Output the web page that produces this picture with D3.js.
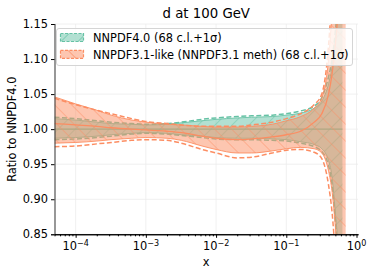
<!DOCTYPE html>
<html>
<head>
<meta charset="utf-8">
<script src="https://cdn.jsdelivr.net/npm/d3@7"></script>
<style>
  body { margin: 0; background: #fff; }
  svg { font-family: "DejaVu Sans", sans-serif; }
</style>
</head>
<body>
<div id="chart"></div>
<script>
// Set dimensions and margins
const width = 374;
const height = 275;
const margin = {left: 54.5, right: 16, top: 24, bottom: 40.7};

// x grid shared by all curves
const xs = [5e-5, 1e-4, 2e-4, 3.2e-4, 6.3e-4, 1e-3, 2e-3, 3.2e-3, 6.3e-3, 1e-2, 2e-2, 3.2e-2,
            6.3e-2, 0.1, 0.16, 0.25, 0.32, 0.4, 0.45, 0.5, 0.56, 0.63, 0.7];

// NNPDF4.0 (ratio to itself)
const n40Central = xs.map(() => 1.0);
const n40Up68 = [1.015, 1.013, 1.010, 1.008, 1.007, 1.006, 1.007, 1.009, 1.012, 1.014, 1.016, 1.017,
                 1.018, 1.020, 1.023, 1.030, 1.040, 1.065, 1.09, 1.13, 1.19, 1.28, null];
const n40Lo68 = [0.987, 0.988, 0.990, 0.992, 0.994, 0.995, 0.994, 0.992, 0.990, 0.988, 0.987, 0.987,
                 0.986, 0.985, 0.982, 0.978, 0.972, 0.955, 0.93, 0.88, 0.82, 0.72, null];
const n40UpSig = [1.017, 1.015, 1.012, 1.010, 1.008, 1.007, 1.008, 1.010, 1.014, 1.016, 1.018, 1.019,
                  1.020, 1.022, 1.026, 1.033, 1.045, 1.075, 1.10, 1.14, 1.20, 1.30, null];
const n40LoSig = [0.985, 0.986, 0.988, 0.990, 0.993, 0.994, 0.993, 0.991, 0.988, 0.986, 0.985, 0.985,
                  0.984, 0.983, 0.980, 0.975, 0.968, 0.948, 0.92, 0.87, 0.80, 0.70, null];

// NNPDF3.1-like
const n31Central = [1.008, 1.006, 1.004, 1.002, 1.000, 0.999, 0.997, 0.995, 0.990, 0.987, 0.985, 0.986,
                    0.989, 0.992, 0.997, 1.010, 1.022, 1.050, 1.08, 1.12, 1.18, 1.25, 1.30];
const n31Up68 = [1.046, 1.036, 1.027, 1.020, 1.013, 1.010, 1.007, 1.006, 1.004, 1.003, 1.003, 1.004,
                 1.007, 1.012, 1.018, 1.030, 1.045, 1.10, 1.17, 1.25, 1.30, 1.35, 1.40];
const n31Lo68 = [0.980, 0.981, 0.983, 0.985, 0.987, 0.988, 0.987, 0.984, 0.976, 0.971, 0.966, 0.966,
                 0.969, 0.972, 0.974, 0.972, 0.966, 0.940, 0.91, 0.86, 0.79, 0.70, 0.60];
const n31UpSig = [1.044, 1.035, 1.027, 1.022, 1.015, 1.011, 1.008, 1.006, 1.004, 1.004, 1.004, 1.006,
                  1.010, 1.015, 1.022, 1.035, 1.050, 1.12, 1.20, 1.30, 1.35, 1.40, 1.45];
const n31LoSig = [0.975, 0.976, 0.979, 0.981, 0.984, 0.985, 0.984, 0.980, 0.971, 0.966, 0.959, 0.960,
                  0.966, 0.970, 0.971, 0.967, 0.958, 0.920, 0.88, 0.82, 0.75, 0.65, 0.55];

const yTicks = [0.85, 0.90, 0.95, 1.00, 1.05, 1.10, 1.15];
const xTicks = [1e-4, 1e-3, 1e-2, 1e-1, 1];
const xTickExp = ["\u22124", "\u22123", "\u22122", "\u22121", "0"];
const legendLabels = ["NNPDF4.0 (68 c.l.+1\u03c3)", "NNPDF3.1-like (NNPDF3.1 meth) (68 c.l.+1\u03c3)"];
const title = "d at 100 GeV";

const green = "#66c2a5";
const orange = "#fc8d62";

const svg = d3.select("#chart")
  .append("svg")
  .attr("width", width)
  .attr("height", height);

const xScale = d3.scaleLog()
  .domain([5e-5, 1.05])
  .range([margin.left, width - margin.right]);

const yScale = d3.scaleLinear()
  .domain([0.85, 1.15])
  .range([height - margin.bottom, margin.top]);

// hatch patterns
const defs = svg.append("defs");
function hatch(id, color, angle) {
  const p = defs.append("pattern")
    .attr("id", id)
    .attr("patternUnits", "userSpaceOnUse")
    .attr("width", 12).attr("height", 12)
    .attr("patternTransform", `rotate(${angle})`);
  p.append("line")
    .attr("x1", 0).attr("y1", 0).attr("x2", 0).attr("y2", 12)
    .attr("stroke", color).attr("stroke-width", 1.3);
}
hatch("hatchG", green, 45);
hatch("hatchO", orange, -45);

defs.append("clipPath").attr("id", "plotclip")
  .append("rect")
  .attr("x", margin.left).attr("y", margin.top)
  .attr("width", width - margin.left - margin.right)
  .attr("height", height - margin.top - margin.bottom);

// grid
svg.append("g").selectAll("line")
  .data(xTicks)
  .enter().append("line")
  .attr("x1", d => xScale(d)).attr("x2", d => xScale(d))
  .attr("y1", margin.top).attr("y2", height - margin.bottom)
  .attr("stroke", "#ececec").attr("stroke-width", 0.8);
svg.append("g").selectAll("line")
  .data(yTicks)
  .enter().append("line")
  .attr("x1", margin.left).attr("x2", width - margin.right)
  .attr("y1", d => yScale(d)).attr("y2", d => yScale(d))
  .attr("stroke", "#ececec").attr("stroke-width", 0.8);

const plot = svg.append("g").attr("clip-path", "url(#plotclip)");

function drawSet(up68, lo68, upSig, loSig, central, color, hatchId) {
  const rows = xs.map((x, i) => ({x: x, up: up68[i], lo: lo68[i], su: upSig[i], sl: loSig[i], c: central[i]}));
  const ok = d => d.up != null;
  const area = d3.area().defined(ok)
    .x(d => xScale(d.x)).y0(d => yScale(d.lo)).y1(d => yScale(d.up))
    .curve(d3.curveMonotoneX);
  plot.append("path").datum(rows).attr("d", area)
    .attr("fill", color).attr("fill-opacity", 0.5);
  plot.append("path").datum(rows).attr("d", area)
    .attr("fill", `url(#${hatchId})`).attr("opacity", 0.7);
  const edge = key => d3.line().defined(ok)
    .x(d => xScale(d.x)).y(d => yScale(d[key])).curve(d3.curveMonotoneX);
  ["up", "lo"].forEach(k => {
    plot.append("path").datum(rows).attr("d", edge(k))
      .attr("fill", "none").attr("stroke", color).attr("stroke-width", 0.9);
  });
  ["su", "sl"].forEach(k => {
    plot.append("path").datum(rows).attr("d", edge(k))
      .attr("fill", "none").attr("stroke", color).attr("stroke-width", 1.5)
      .attr("stroke-dasharray", "5,2.5");
  });
  plot.append("path").datum(rows).attr("d", edge("c"))
    .attr("fill", "none").attr("stroke", color).attr("stroke-width", 1.3);
}

drawSet(n40Up68, n40Lo68, n40UpSig, n40LoSig, n40Central, green, "hatchG");
drawSet(n31Up68, n31Lo68, n31UpSig, n31LoSig, n31Central, orange, "hatchO");

// y axis
const yAxis = svg.append("g")
  .attr("transform", `translate(${margin.left},0)`)
  .call(d3.axisLeft(yScale).tickValues(yTicks).tickFormat(d3.format(".2f")).tickSizeOuter(0).tickSize(3.5).tickPadding(3));
yAxis.attr("font-size", "11.4px").attr("font-family", "DejaVu Sans");
yAxis.selectAll("text").attr("fill", "#000");
yAxis.select(".domain").attr("stroke", "#444").attr("stroke-width", 1.1);

// x axis with log minor ticks
const minor = [];
for (let e = -5; e < 1; e++) {
  for (let m = 2; m < 10; m++) {
    const v = m * Math.pow(10, e);
    if (v >= 5e-5 && v <= 1.05) minor.push(v);
  }
}
const xAxisG = svg.append("g")
  .attr("transform", `translate(0,${height - margin.bottom})`);
xAxisG.call(d3.axisBottom(xScale).tickValues(minor).tickFormat("").tickSize(2).tickSizeOuter(0));
xAxisG.append("g").call(d3.axisBottom(xScale).tickValues(xTicks).tickFormat("").tickSize(3.5).tickSizeOuter(0));
xAxisG.selectAll(".domain").attr("stroke", "#000").attr("stroke-width", 1.1);

const xl = svg.append("g").selectAll("text")
  .data(xTicks)
  .enter().append("text")
  .attr("x", d => xScale(d))
  .attr("y", 250)
  .attr("text-anchor", "middle")
  .attr("font-size", "11.4px");
xl.append("tspan").text("10");
xl.append("tspan").attr("dy", -4.5).attr("font-size", "8px").text((d, i) => xTickExp[i]);

// labels
svg.append("text").attr("x", (margin.left + width - margin.right) / 2).attr("y", 17.5)
  .attr("text-anchor", "middle").attr("font-size", "13.3px").text(title);
svg.append("text").attr("x", 206).attr("y", 265.5)
  .attr("text-anchor", "middle").attr("font-size", "11.4px").text("x");
svg.append("text")
  .attr("transform", `translate(15.5,${yScale(1.0)}) rotate(-90)`)
  .attr("text-anchor", "middle").attr("font-size", "11.4px").text("Ratio to NNPDF4.0");

// legend
const leg = svg.append("g");
leg.append("rect")
  .attr("x", 56.5).attr("y", 28.5).attr("width", 296).attr("height", 37).attr("rx", 2.5)
  .attr("fill", "#fff").attr("fill-opacity", 0.8)
  .attr("stroke", "#d0d0d0").attr("stroke-width", 0.9);
const legColors = [green, orange];
const legHatch = ["hatchG", "hatchO"];
legendLabels.forEach((lab, i) => {
  const y = 33.5 + i * 16.8;
  leg.append("rect").attr("x", 60.5).attr("y", y).attr("width", 23).attr("height", 8)
    .attr("fill", legColors[i]).attr("fill-opacity", 0.5);
  leg.append("rect").attr("x", 60.5).attr("y", y).attr("width", 23).attr("height", 8)
    .attr("fill", `url(#${legHatch[i]})`)
    .attr("stroke", legColors[i]).attr("stroke-width", 1.2).attr("stroke-dasharray", "3,1.5");
  leg.append("text").attr("x", 93).attr("y", y + 8.5)
    .attr("font-size", "11.4px").text(lab);
});
</script>
</body>
</html>
